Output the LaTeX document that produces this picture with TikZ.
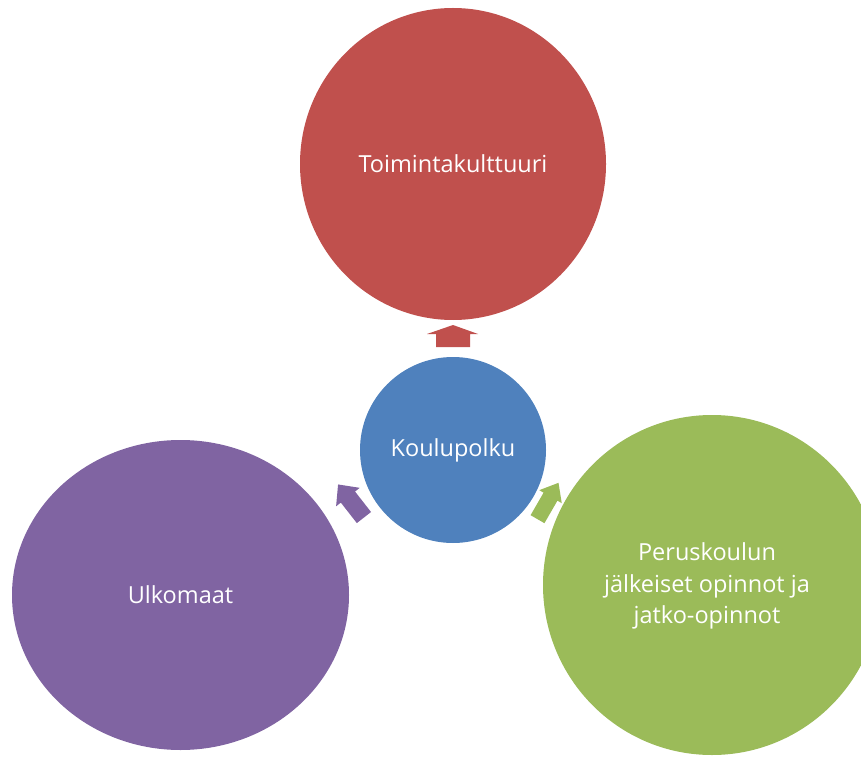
\documentclass[tikz,border=0pt]{standalone}
\usepackage{fontspec}
\setmainfont{Open Sans}
\usetikzlibrary{shapes.geometric}
\definecolor{cred}{HTML}{C0504D}
\definecolor{cblue}{HTML}{4F81BD}
\definecolor{cpurple}{HTML}{8064A2}
\definecolor{cgreen}{HTML}{9BBB59}
\tikzset{
  blob/.style={ellipse, inner sep=0pt, text=white, align=center, font=\fontsize{23.5}{31.5}\selectfont},
  blockarrow/.style={fill=#1, draw=none},
}
\begin{document}
\begin{tikzpicture}[x=1pt,y=1pt]
\useasboundingbox (0,0) rectangle (861,756);
\clip (0,0) rectangle (861,756);
\node[blob, fill=cred, minimum width=306pt, minimum height=312pt] (red) at (453,592) {Toimintakulttuuri};
\node[blob, fill=cpurple, minimum width=337pt, minimum height=310pt] (purple) at (180.5,161) {Ulkomaat};
\node[blob, fill=cgreen, minimum width=338pt, minimum height=340pt] (green) at (712,171) {};
\node[font=\fontsize{23.5}{31.5}\selectfont, text=white, align=center] (gtext) at (707,170) {Peruskoulun\\jälkeiset opinnot ja\\jatko-opinnot};
\node[blob, fill=cblue, minimum width=186pt, minimum height=186pt] (blue) at (453,306) {Koulupolku};
% red arrow
\fill[blockarrow=cred] (436,409) -- (436,422) -- (427,422) -- (453,431) -- (478,422) -- (470,422) -- (470,409) -- cycle;
% purple arrow
\begin{scope}[shift={(351,255)}, rotate=128]
\fill[blockarrow=cpurple] (-21,-9) -- (5,-9) -- (5,-15) -- (21,0) -- (5,15) -- (5,9) -- (-21,9) -- cycle;
\end{scope}
% green arrow
\begin{scope}[shift={(548,255)}, rotate=60]
\fill[blockarrow=cgreen] (-21,-8) -- (5,-8) -- (5,-13) -- (21,0) -- (5,13) -- (5,8) -- (-21,8) -- cycle;
\end{scope}
\end{tikzpicture}
\end{document}
